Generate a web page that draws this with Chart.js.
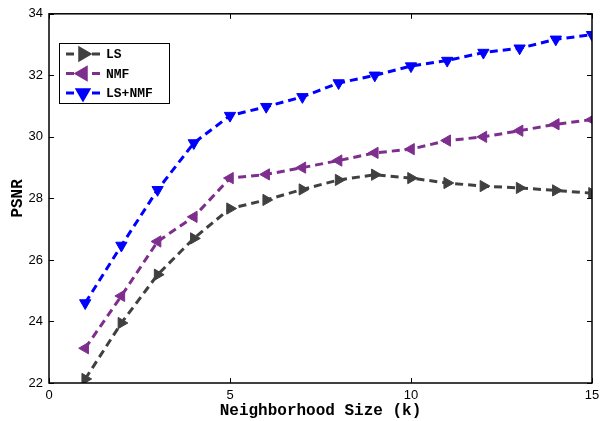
<!DOCTYPE html>
<html>
<head>
<meta charset="utf-8">
<script src="https://cdn.jsdelivr.net/npm/chart.js@4.4.0/dist/chart.umd.min.js"></script>
<style>
  html, body { margin: 0; padding: 0; background: #fff; }
  #wrap { width: 606px; height: 421px; }
</style>
</head>
<body>
<div id="wrap"><canvas id="myChart" width="606" height="421"></canvas></div>
<script>
// neighborhood sizes
const kValues = [1, 2, 3, 4, 5, 6, 7, 8, 9, 10, 11, 12, 13, 14, 15];
// PSNR per method
const lsValues = [22.13, 23.95, 25.52, 26.7, 27.67, 27.95, 28.29, 28.6, 28.77, 28.66, 28.5, 28.4, 28.34, 28.26, 28.17];
const nmfValues = [23.13, 24.83, 26.6, 27.4, 28.66, 28.78, 29.0, 29.23, 29.48, 29.6, 29.88, 30.0, 30.2, 30.41, 30.56];
const lsNmfValues = [24.6, 26.47, 28.28, 29.8, 30.69, 30.98, 31.3, 31.75, 32.0, 32.3, 32.48, 32.74, 32.88, 33.17, 33.32];
const xTicks = [0, 5, 10, 15];
const yTicks = [22, 24, 26, 28, 30, 32, 34];

const monoFont = "'Liberation Mono', 'DejaVu Sans Mono', monospace";
const sansFont = "'Liberation Sans', Arial, sans-serif";

function toPoints(ys) {
  return kValues.map((k, i) => ({ x: k, y: ys[i] }));
}

function makeSet(label, values, color, rotation) {
  return {
    label: label,
    data: toPoints(values),
    borderColor: color,
    backgroundColor: color,
    borderWidth: 3,
    borderDash: [8, 5],
    pointStyle: 'triangle',
    pointRotation: rotation,
    pointRadius: 6.5,
    pointHoverRadius: 6.5,
    pointBorderWidth: 1,
    tension: 0,
    fill: false
  };
}

// box + inward ticks like the original figure
const boxPlugin = {
  id: 'boxPlugin',
  afterDraw(chart) {
    const ctx = chart.ctx;
    const a = chart.chartArea;
    const xs = chart.scales.x;
    const ys = chart.scales.y;
    ctx.save();
    ctx.strokeStyle = '#000';
    ctx.lineWidth = 1.5;
    ctx.setLineDash([]);
    ctx.strokeRect(a.left, a.top, a.right - a.left, a.bottom - a.top);
    ctx.lineWidth = 1;
    const len = 5;
    ctx.beginPath();
    xTicks.forEach(v => {
      const px = Math.round(xs.getPixelForValue(v)) + 0.5;
      ctx.moveTo(px, a.bottom); ctx.lineTo(px, a.bottom - len);
      ctx.moveTo(px, a.top); ctx.lineTo(px, a.top + len);
    });
    yTicks.forEach(v => {
      const py = Math.round(ys.getPixelForValue(v)) + 0.5;
      ctx.moveTo(a.left, py); ctx.lineTo(a.left + len, py);
      ctx.moveTo(a.right, py); ctx.lineTo(a.right - len, py);
    });
    ctx.stroke();

    // legend inside the axes
    const bx = 59, by = 43, bw = 110, bh = 60;
    ctx.fillStyle = '#fff';
    ctx.fillRect(bx, by, bw, bh);
    ctx.strokeStyle = '#000';
    ctx.lineWidth = 1;
    ctx.strokeRect(bx + 0.5, by + 0.5, bw, bh);
    chart.data.datasets.forEach((ds, i) => {
      const y = by + 11 + i * 19.5;
      ctx.strokeStyle = ds.borderColor;
      ctx.lineWidth = 3;
      ctx.setLineDash([8, 5]);
      ctx.beginPath();
      ctx.moveTo(66, y); ctx.lineTo(100, y);
      ctx.stroke();
      ctx.setLineDash([]);
      ctx.fillStyle = ds.backgroundColor;
      Chart.helpers.drawPoint(ctx, { pointStyle: 'triangle', rotation: ds.pointRotation, radius: 6.5, borderWidth: 1 }, 83, y);
      ctx.fillStyle = '#000';
      ctx.font = 'bold 13px ' + monoFont;
      ctx.textBaseline = 'middle';
      ctx.textAlign = 'left';
      ctx.fillText(ds.label, 106, y + 1);
    });
    ctx.restore();
  }
};

const ctx = document.getElementById('myChart').getContext('2d');
new Chart(ctx, {
  type: 'line',
  data: {
    datasets: [
      makeSet('LS', lsValues, '#404040', 90),
      makeSet('NMF', nmfValues, '#7E2F8E', -90),
      makeSet('LS+NMF', lsNmfValues, '#0000FF', 180)
    ]
  },
  options: {
    responsive: false,
    animation: false,
    layout: { padding: { top: 10, right: 14, left: 0, bottom: 0 } },
    plugins: {
      legend: { display: false },
      tooltip: { enabled: false }
    },
    scales: {
      x: {
        type: 'linear',
        min: 0,
        max: 15,
        afterBuildTicks: s => { s.ticks = xTicks.map(v => ({ value: v })); },
        afterFit: s => { s.height = 38; },
        grid: { display: false, drawTicks: false },
        border: { display: false },
        ticks: { color: '#000', padding: 5, font: { family: sansFont, size: 13 } },
        title: {
          display: true,
          text: 'Neighborhood Size (k)',
          color: '#000',
          padding: { top: 0, bottom: 0 },
          font: { family: monoFont, size: 16, weight: 'bold' }
        }
      },
      y: {
        min: 22,
        max: 34,
        afterBuildTicks: s => { s.ticks = yTicks.map(v => ({ value: v })); },
        afterFit: s => { s.width = 49; },
        grid: { display: false, drawTicks: false },
        border: { display: false },
        ticks: { color: '#000', padding: 6, font: { family: sansFont, size: 13 } },
        title: {
          display: true,
          text: 'PSNR',
          color: '#000',
          padding: { top: 8, bottom: 0 },
          font: { family: monoFont, size: 16, weight: 'bold' }
        }
      }
    }
  },
  plugins: [boxPlugin]
});
</script>
</body>
</html>
